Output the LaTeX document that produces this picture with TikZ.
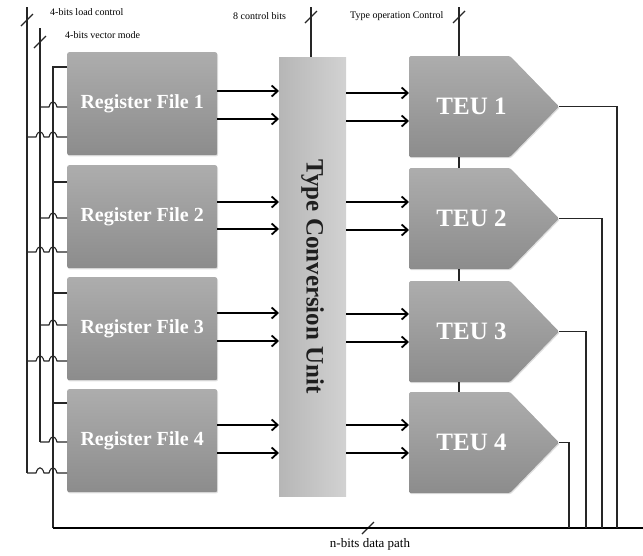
\documentclass[tikz,border=0pt]{standalone}
\usepackage{fontspec}
\setmainfont{Liberation Serif}
\usetikzlibrary{arrows.meta,shadows,calc}
\definecolor{boxtop}{HTML}{ADADAD}
\definecolor{boxbot}{HTML}{8C8C8C}
\definecolor{tcul}{HTML}{B6B6B6}
\definecolor{tcur}{HTML}{D2D2D2}
\begin{document}
\begin{tikzpicture}[x=1pt,y=-1pt,
  wire/.style={line width=1.1pt, black!85},
  bus/.style={line width=1.8pt, black},
  arr/.style={line width=1.8pt, black, -{Straight Barb[length=6pt,width=11pt]}},
  myshadow/.style={drop shadow={opacity=0.25, shadow xshift=0.8pt, shadow yshift=-1.2pt}},
  rfbox/.style={rectangle, rounded corners=2pt, top color=boxtop, bottom color=boxbot,
    minimum width=150pt, minimum height=103pt, anchor=north west, inner sep=0pt,
    text=white, font=\bfseries\fontsize{20}{24}\selectfont, myshadow},
  teufill/.style={top color=boxtop, bottom color=boxbot, rounded corners=1.5pt, myshadow},
  teutext/.style={text=white, font=\bfseries\fontsize{25}{30}\selectfont, inner sep=0pt},
  tcubox/.style={rectangle, left color=tcul, right color=tcur, minimum width=67pt,
    minimum height=439pt, anchor=north west, inner sep=0pt,
    text=black!88, font=\bfseries\fontsize{25}{30}\selectfont},
  lbl/.style={font=\fontsize{10}{12}\selectfont, inner sep=0pt, anchor=west},
]
\useasboundingbox (0,0) rectangle (643,555);

% register files
\node[rfbox] (rf1) at (67,52)  {Register File 1};
\node[rfbox] (rf2) at (67,165) {Register File 2};
\node[rfbox] (rf3) at (67,277) {Register File 3};
\node[rfbox] (rf4) at (67,389) {Register File 4};

% type conversion unit
\node[tcubox] (tcu) at (279,57) {\rotatebox{-90}{Type Conversion Unit}};

% TEUs
\foreach \i/\t in {1/56,2/168,3/281,4/392} {
  \path[teufill] (409,\t) -- (510,\t) -- (559,\t+50.5) -- (510,\t+101) -- (409,\t+101) -- cycle;
  \node[teutext] (teu\i) at (471.5,\t+50.5) {TEU \i};
  \coordinate (tip\i) at (559,\t+50.5);
  \coordinate (teutop\i) at (459,\t);
  \coordinate (teubot\i) at (459,\t+101);
  \coordinate (teuw\i) at (409,\t+50.5);
}

% arrows RF -> TCU -> TEU
\foreach \i/\a/\b/\c/\d in {1/91/119/93/121, 2/202/229/202/230, 3/313/341/314/342, 4/425/453/425/453} {
  \coordinate (ya) at (0,\a); \coordinate (yb) at (0,\b);
  \coordinate (yc) at (0,\c); \coordinate (yd) at (0,\d);
  \draw[arr] (rf\i.east |- ya) -- (tcu.west |- ya);
  \draw[arr] (rf\i.east |- yb) -- (tcu.west |- yb);
  \draw[arr] (tcu.east |- yc) -- (teuw\i |- yc);
  \draw[arr] (tcu.east |- yd) -- (teuw\i |- yd);
}

% control lines between TEUs
\draw[wire] (teubot1) -- (teutop2);
\draw[wire] (teubot2) -- (teutop3);
\draw[wire] (teubot3) -- (teutop4);

% top control inputs
\coordinate (lctop) at (27,7);
\coordinate (vmtop) at (40,28);
\coordinate (cbtop) at (311,7);
\coordinate (totop) at (459,7);
\draw[wire] (cbtop) -- (tcu.north -| cbtop);
\draw[wire] (totop) -- (teutop1);
\foreach \px/\py in {27/20,40/42,311/17,459/17,368/528} {
  \draw[wire] (\px-6,\py+6) -- (\px+6,\py-6);
}

% labels
\node[lbl] (l1) at (50,12) {4-bits load control};
\node[lbl] (l2) at (65,35) {4-bits vector mode};
\node[lbl] (l3) at (233,16) {8 control bits};
\node[lbl] (l4) at (350,16) {Type operation Control};
\node[font=\fontsize{13}{15}\selectfont, inner sep=0pt] (l5) at (370,544) {n-bits data path};

% data path line (x=53)
\coordinate (dtop) at (53,67);
\coordinate (dbot) at (53,528);
\coordinate (dend) at (643,528);
\draw[wire] (rf1.west |- dtop) -- (dtop) -- (dbot);
\foreach \i/\y in {2/182,3/293,4/403} {
  \coordinate (dj) at (53,\y);
  \draw[wire] (dj) -- (rf\i.west |- dj);
}
\draw[bus] (dbot) -- (dend);

% vector mode line (x=40)
\coordinate (vmbot) at (40,442);
\draw[wire] (vmtop) -- (vmbot);
\foreach \i/\y in {1/107,2/218,3/325,4/442} {
  \coordinate (vj) at (40,\y);
  \draw[wire] (vj) -- (49,\y) .. controls (51,\y-7) and (55,\y-7) .. (57,\y) -- (rf\i.west |- vj);
}

% load control line (x=27)
\coordinate (lcbot) at (27,473);
\draw[wire] (lctop) -- (lcbot);
\foreach \i/\y in {1/137,2/252,3/361,4/473} {
  \coordinate (lj) at (27,\y);
  \draw[wire] (lj) -- (36,\y) .. controls (38,\y-7) and (42,\y-7) .. (44,\y)
    -- (49,\y) .. controls (51,\y-7) and (55,\y-7) .. (57,\y) -- (rf\i.west |- lj);
}

% TEU outputs to data path
\foreach \i/\x in {1/617,2/602,3/586,4/569} {
  \coordinate (ox) at (\x,528);
  \draw[wire] (tip\i) -- (ox |- tip\i) -- (ox);
}
\end{tikzpicture}
\end{document}
